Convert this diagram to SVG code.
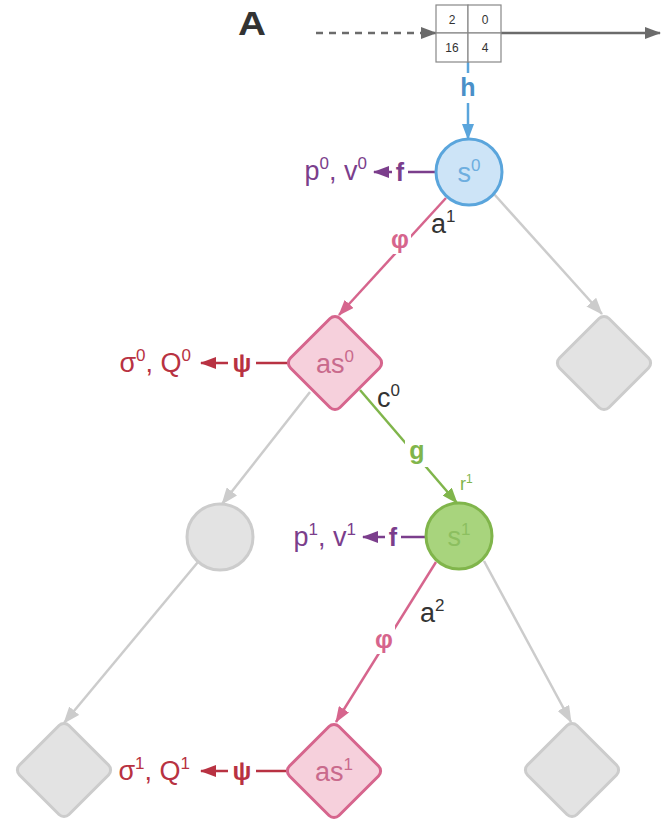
<svg xmlns="http://www.w3.org/2000/svg" width="664" height="828" viewBox="0 0 664 828">
  <style>
    text { font-family: "Liberation Sans", Arial, sans-serif; }
    .edge { fill: none; stroke-width: 2.5; }
    .gray { stroke: #cccccc; }
    .dark { stroke: #6b6b6b; stroke-width: 2.5; }
    .blue { stroke: #5aa5dc; }
    .pink { stroke: #d6658d; }
    .green { stroke: #80b54b; }
    .purple { stroke: #7b3e8c; }
    .red { stroke: #b83242; }
    .lbl { font-weight: bold; font-size: 25px; text-anchor: middle; dominant-baseline: central; }
    .big { font-size: 27px; }
    .sup { font-size: 17px; }
    .ghost-c { fill: #e3e3e3; stroke: #cccccc; stroke-width: 3; }
    .ghost-d { fill: #e3e3e3; stroke: #cccccc; stroke-width: 3; }
    .cell { fill: #ffffff; stroke: #888888; stroke-width: 1.2; }
    .num { font-size: 12px; fill: #333; text-anchor: middle; }
  </style>
  <defs>
    <marker id="ah-dark" markerUnits="userSpaceOnUse" markerWidth="16" markerHeight="12" refX="15" refY="6" orient="auto"><path d="M0,0 L16,6 L0,12 Z" fill="#6b6b6b"/></marker>
    <marker id="ah-gray" markerUnits="userSpaceOnUse" markerWidth="17" markerHeight="13" refX="16" refY="6.5" orient="auto"><path d="M0,0 L17,6.5 L0,13 Z" fill="#cccccc"/></marker>
    <marker id="ah-blue" markerUnits="userSpaceOnUse" markerWidth="16" markerHeight="12" refX="15" refY="6" orient="auto"><path d="M0,0 L16,6 L0,12 Z" fill="#5aa5dc"/></marker>
    <marker id="ah-pink" markerUnits="userSpaceOnUse" markerWidth="16" markerHeight="12" refX="15" refY="6" orient="auto"><path d="M0,0 L16,6 L0,12 Z" fill="#d6658d"/></marker>
    <marker id="ah-green" markerUnits="userSpaceOnUse" markerWidth="16" markerHeight="12" refX="15" refY="6" orient="auto"><path d="M0,0 L16,6 L0,12 Z" fill="#80b54b"/></marker>
    <marker id="ah-purple" markerUnits="userSpaceOnUse" markerWidth="16" markerHeight="12" refX="15" refY="6" orient="auto"><path d="M0,0 L16,6 L0,12 Z" fill="#7b3e8c"/></marker>
    <marker id="ah-red" markerUnits="userSpaceOnUse" markerWidth="16" markerHeight="12" refX="15" refY="6" orient="auto"><path d="M0,0 L16,6 L0,12 Z" fill="#b83242"/></marker>
    <rect id="diamond" x="-35" y="-35" width="70" height="70" rx="7" ry="7" transform="rotate(45)"/>
  </defs>

  <rect width="664" height="828" fill="#ffffff"/>

  <!-- panel letter -->
  <text x="238" y="35" font-size="33" font-weight="bold" fill="#333333" textLength="28" lengthAdjust="spacingAndGlyphs">A</text>

  <!-- connectors -->
  <g id="connectors">
    <line class="dark" x1="316" y1="33" x2="436" y2="33" stroke-dasharray="7,6" marker-end="url(#ah-dark)"/>
    <line class="dark" x1="501" y1="33" x2="660" y2="33" marker-end="url(#ah-dark)"/>

    <line class="edge blue" x1="468" y1="62" x2="468" y2="139" marker-end="url(#ah-blue)"/>

    <line class="edge gray" x1="494" y1="194" x2="602" y2="314" marker-end="url(#ah-gray)"/>
    <line class="edge pink" x1="446" y1="198" x2="339" y2="315" marker-end="url(#ah-pink)"/>
    <line class="edge purple" x1="436" y1="172" x2="374" y2="172" marker-end="url(#ah-purple)"/>

    <line class="edge red" x1="288" y1="363" x2="201" y2="363" marker-end="url(#ah-red)"/>
    <line class="edge gray" x1="310" y1="392" x2="222" y2="504" marker-end="url(#ah-gray)"/>
    <line class="edge green" x1="360" y1="390" x2="457" y2="503" marker-end="url(#ah-green)"/>

    <line class="edge purple" x1="426" y1="537" x2="363" y2="537" marker-end="url(#ah-purple)"/>
    <line class="edge pink" x1="436" y1="562" x2="336" y2="722" marker-end="url(#ah-pink)"/>
    <line class="edge gray" x1="484" y1="561" x2="571" y2="722" marker-end="url(#ah-gray)"/>
    <line class="edge gray" x1="198" y1="562" x2="64" y2="723" marker-end="url(#ah-gray)"/>

    <line class="edge red" x1="287" y1="771" x2="201" y2="771" marker-end="url(#ah-red)"/>

    <!-- edge labels -->
    <rect x="457" y="73" width="22" height="30" fill="#ffffff"/>
    <text class="lbl" x="468" y="87" fill="#4a90c8">h</text>
    <rect x="392" y="160" width="16" height="24" fill="#ffffff"/>
    <text class="lbl" x="400" y="172" fill="#7b3e8c">f</text>
    <rect x="389" y="224" width="22" height="30" fill="#ffffff"/>
    <text class="lbl" x="400" y="239" fill="#d6658d">φ</text>
    <rect x="228" y="350" width="28" height="26" fill="#ffffff"/>
    <text class="lbl" x="242" y="363" fill="#b83242">ψ</text>
    <rect x="405" y="435" width="24" height="32" fill="#ffffff"/>
    <text class="lbl" x="417" y="450" fill="#80b54b">g</text>
    <rect x="385" y="525" width="16" height="24" fill="#ffffff"/>
    <text class="lbl" x="393" y="537" fill="#7b3e8c">f</text>
    <rect x="373" y="624" width="22" height="30" fill="#ffffff"/>
    <text class="lbl" x="384" y="639" fill="#d6658d">φ</text>
    <rect x="228" y="758" width="28" height="26" fill="#ffffff"/>
    <text class="lbl" x="242" y="771" fill="#b83242">ψ</text>
  </g>

  <!-- observation buffer -->
  <g id="buffer">
    <rect class="cell" x="436" y="5" width="32" height="28"/>
    <rect class="cell" x="468" y="5" width="33" height="28"/>
    <rect class="cell" x="436" y="33" width="32" height="29"/>
    <rect class="cell" x="468" y="33" width="33" height="29"/>
    <text class="num" x="452" y="24">2</text>
    <text class="num" x="485" y="24">0</text>
    <text class="num" x="452" y="52">16</text>
    <text class="num" x="485" y="52">4</text>
  </g>

  <!-- root state -->
  <g id="s0">
    <circle cx="469" cy="172" r="33" fill="#cde4f7" stroke="#5aa5dc" stroke-width="3"/>
    <text class="big" x="469" y="182" fill="#6eaedf" text-anchor="middle">s<tspan class="sup" dy="-11">0</tspan></text>
  </g>
  <text class="big" x="367" y="180" fill="#7b3e8c" text-anchor="end">p<tspan class="sup" dy="-11">0</tspan><tspan dy="11">, v</tspan><tspan class="sup" dy="-11">0</tspan></text>
  <text class="big" x="431" y="233" fill="#333333">a<tspan class="sup" dy="-11">1</tspan></text>

  <!-- afterstate 0 -->
  <g id="as0">
    <use href="#diamond" transform="translate(335,363)" fill="#f6d0dc" stroke="#d6658d" stroke-width="3"/>
    <text class="big" x="335" y="373" fill="#c96a8c" text-anchor="middle">as<tspan class="sup" dy="-11">0</tspan></text>
  </g>
  <text class="big" x="191" y="372" fill="#b83242" text-anchor="end">σ<tspan class="sup" dy="-11">0</tspan><tspan dy="11">, Q</tspan><tspan class="sup" dy="-11">0</tspan></text>
  <text class="big" x="377" y="407" fill="#333333">c<tspan class="sup" dy="-11">0</tspan></text>

  <g id="ghost-as-right">
    <use href="#diamond" transform="translate(604,363)" class="ghost-d"/>
  </g>

  <g id="ghost-s-left">
    <circle cx="220" cy="537" r="33" class="ghost-c"/>
  </g>

  <!-- state 1 -->
  <text x="460" y="490" font-size="18" fill="#80b54b">r<tspan font-size="12" dy="-7">1</tspan></text>
  <g id="s1">
    <circle cx="459" cy="536" r="33" fill="#a8d47d" stroke="#80b54b" stroke-width="3"/>
    <text class="big" x="459" y="546" fill="#8cbf60" text-anchor="middle">s<tspan class="sup" dy="-11">1</tspan></text>
  </g>
  <text class="big" x="356" y="546" fill="#7b3e8c" text-anchor="end">p<tspan class="sup" dy="-11">1</tspan><tspan dy="11">, v</tspan><tspan class="sup" dy="-11">1</tspan></text>
  <text class="big" x="420" y="622" fill="#333333">a<tspan class="sup" dy="-11">2</tspan></text>

  <!-- afterstate 1 -->
  <g id="as1">
    <use href="#diamond" transform="translate(334,771)" fill="#f6d0dc" stroke="#d6658d" stroke-width="3"/>
    <text class="big" x="334" y="781" fill="#c96a8c" text-anchor="middle">as<tspan class="sup" dy="-11">1</tspan></text>
  </g>
  <text class="big" x="190" y="780" fill="#b83242" text-anchor="end">σ<tspan class="sup" dy="-11">1</tspan><tspan dy="11">, Q</tspan><tspan class="sup" dy="-11">1</tspan></text>

  <g id="ghost-as-bl">
    <use href="#diamond" transform="translate(64,770)" class="ghost-d"/>
  </g>
  <g id="ghost-as-br">
    <use href="#diamond" transform="translate(572,770)" class="ghost-d"/>
  </g>
</svg>
